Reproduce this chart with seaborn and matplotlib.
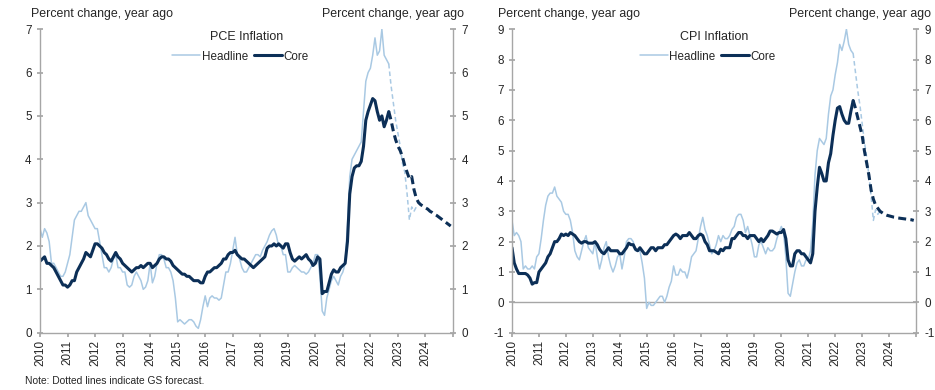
import numpy as np
import pandas as pd
import matplotlib
matplotlib.use("Agg")
import matplotlib.pyplot as plt
import seaborn as sns

sns.set_theme(style="white")
plt.rcParams['font.family'] = ['Liberation Sans', 'DejaVu Sans']

# ---------------- data (monthly, Jan 2010 - Sep 2022 actual) ----------------
pce_headline = [
    2.4, 2.2, 2.4, 2.3, 2.1, 1.6, 1.6, 1.5, 1.4, 1.3, 1.3, 1.4,
    1.6, 1.8, 2.2, 2.6, 2.7, 2.8, 2.8, 2.9, 3.0, 2.7, 2.6, 2.5,
    2.4, 2.4, 2.1, 1.8, 1.5, 1.5, 1.4, 1.5, 1.7, 1.8, 1.5, 1.5,
    1.4, 1.4, 1.1, 1.05, 1.1, 1.3, 1.4, 1.3, 1.2, 1.0, 1.05, 1.2,
    1.6, 1.15, 1.3, 1.6, 1.8, 1.8, 1.7, 1.5, 1.5, 1.4, 1.2, 0.8,
    0.25, 0.3, 0.25, 0.2, 0.25, 0.3, 0.3, 0.25, 0.15, 0.1, 0.3, 0.6,
    0.85, 0.6, 0.8, 0.85, 0.8, 0.8, 0.75, 0.8, 1.1, 1.4, 1.4, 1.6,
    1.9, 2.2, 1.8, 1.7, 1.5, 1.4, 1.4, 1.5, 1.6, 1.7, 1.8, 1.8,
    1.75, 1.9, 2.0, 2.1, 2.25, 2.35, 2.4, 2.25, 2.0, 2.0, 1.8, 1.8,
    1.4, 1.4, 1.5, 1.55, 1.5, 1.45, 1.4, 1.4, 1.35, 1.4, 1.5, 1.6,
    1.8, 1.8, 1.3, 0.5, 0.4, 0.8, 1.0, 1.2, 1.3, 1.2, 1.1, 1.3,
    1.4, 1.6, 2.5, 3.6, 4.0, 4.1, 4.2, 4.3, 4.4, 5.1, 5.8, 6.0,
    6.1, 6.4, 6.8, 6.4, 6.5, 7.0, 6.4, 6.3, 6.2,
]
pce_core = [
    1.65, 1.7, 1.75, 1.6, 1.6, 1.55, 1.5, 1.4, 1.3, 1.2, 1.1, 1.1,
    1.05, 1.1, 1.2, 1.2, 1.4, 1.5, 1.6, 1.7, 1.85, 1.8, 1.75, 1.9,
    2.05, 2.05, 2.0, 1.95, 1.85, 1.8, 1.7, 1.65, 1.75, 1.85, 1.75, 1.7,
    1.6, 1.55, 1.5, 1.45, 1.4, 1.45, 1.5, 1.5, 1.55, 1.5, 1.55, 1.6,
    1.6, 1.5, 1.55, 1.6, 1.7, 1.75, 1.75, 1.7, 1.7, 1.65, 1.55, 1.5,
    1.45, 1.4, 1.35, 1.35, 1.3, 1.3, 1.25, 1.2, 1.2, 1.2, 1.15, 1.15,
    1.3, 1.4, 1.4, 1.45, 1.5, 1.5, 1.55, 1.6, 1.7, 1.7, 1.8, 1.85,
    1.85, 1.9, 1.8, 1.75, 1.7, 1.7, 1.65, 1.6, 1.55, 1.5, 1.55, 1.6,
    1.65, 1.7, 1.75, 1.95, 2.0, 2.0, 2.05, 2.0, 2.05, 2.0, 1.95, 2.05,
    2.05, 1.85, 1.7, 1.65, 1.7, 1.75, 1.7, 1.75, 1.8, 1.7, 1.65, 1.55,
    1.6, 1.75, 1.7, 0.9, 0.95, 0.95, 1.15, 1.35, 1.45, 1.4, 1.4, 1.5,
    1.55, 1.6, 2.1, 3.2, 3.6, 3.8, 3.85, 3.85, 3.95, 4.3, 4.9, 5.1,
    5.25, 5.4, 5.35, 5.1, 4.9, 5.0, 4.75, 4.9, 5.1,
]
cpi_headline = [
    2.7, 2.2, 2.3, 2.2, 2.0, 1.1, 1.2, 1.1, 1.1, 1.2, 1.1, 1.5,
    1.6, 2.1, 2.7, 3.2, 3.5, 3.6, 3.6, 3.8, 3.5, 3.4, 3.3, 3.0,
    2.9, 2.9, 2.7, 2.3, 1.7, 1.5, 1.4, 1.7, 2.0, 2.2, 1.8, 1.7,
    1.6, 2.0, 1.5, 1.1, 1.4, 1.8, 2.0, 1.5, 1.2, 1.0, 1.2, 1.5,
    1.6, 1.1, 1.5, 2.0, 2.1, 2.1, 2.0, 1.7, 1.7, 1.7, 1.3, 0.8,
    -0.2, 0.0, -0.1, -0.1, 0.0, 0.1, 0.2, 0.2, 0.0, 0.2, 0.5, 0.7,
    1.2, 0.9, 0.9, 1.1, 1.0, 1.0, 0.8, 1.1, 1.5, 1.6, 1.7, 2.1,
    2.5, 2.8, 2.4, 2.2, 1.9, 1.6, 1.7, 1.9, 2.2, 2.0, 2.2, 2.1,
    2.1, 2.2, 2.4, 2.5, 2.8, 2.9, 2.9, 2.7, 2.3, 2.5, 2.2, 1.9,
    1.5, 1.5, 1.9, 2.0, 1.8, 1.6, 1.8, 1.7, 1.7, 1.8, 2.1, 2.3,
    2.5, 2.3, 1.5, 0.3, 0.2, 0.6, 1.0, 1.3, 1.4, 1.2, 1.2, 1.4,
    1.4, 1.7, 2.6, 4.2, 5.0, 5.4, 5.3, 5.2, 5.4, 6.2, 6.8, 7.0,
    7.5, 7.9, 8.5, 8.3, 8.6, 9.0, 8.5, 8.3, 8.2,
]
cpi_core = [
    1.8, 1.3, 1.1, 0.95, 0.95, 0.95, 0.95, 0.9, 0.8, 0.6, 0.65, 0.65,
    1.0, 1.1, 1.2, 1.3, 1.5, 1.6, 1.8, 2.0, 2.0, 2.1, 2.25, 2.2,
    2.25, 2.2, 2.3, 2.25, 2.2, 2.1, 2.0, 1.95, 2.0, 2.0, 1.95, 1.95,
    1.95, 2.0, 1.9, 1.75, 1.65, 1.6, 1.7, 1.8, 1.7, 1.7, 1.7, 1.7,
    1.6, 1.6, 1.7, 1.8, 1.95, 1.9, 1.9, 1.75, 1.7, 1.8, 1.7, 1.6,
    1.6, 1.7, 1.8, 1.8, 1.7, 1.8, 1.8, 1.8, 1.9, 1.9, 2.0, 2.1,
    2.2, 2.25, 2.2, 2.1, 2.2, 2.2, 2.2, 2.3, 2.2, 2.1, 2.1, 2.2,
    2.25, 2.2, 2.0, 1.9, 1.7, 1.7, 1.7, 1.65, 1.6, 1.75, 1.7, 1.8,
    1.8, 1.8, 2.1, 2.1, 2.2, 2.3, 2.3, 2.2, 2.2, 2.1, 2.2, 2.2,
    2.2, 2.1, 2.0, 2.1, 2.0, 2.1, 2.2, 2.35, 2.35, 2.3, 2.25, 2.3,
    2.3, 2.4, 2.1, 1.4, 1.2, 1.2, 1.6, 1.7, 1.7, 1.6, 1.6, 1.5,
    1.4, 1.3, 1.6, 3.0, 3.8, 4.45, 4.25, 4.0, 4.0, 4.6, 4.9, 5.5,
    6.0, 6.4, 6.45, 6.2, 6.0, 5.9, 5.9, 6.3, 6.65,
]

# GS forecasts (monthly, from Oct 2022)
pce_headline_fc = [5.7, 5.3, 4.9, 4.6, 4.3, 3.9, 3.7, 3.2, 2.6, 2.9, 2.8, 2.9, 2.9]
pce_core_fc = [4.9, 4.65, 4.45, 4.3, 4.2, 4.05, 3.85, 3.7, 3.55, 3.6, 3.3, 3.1,
               3.0, 2.95, 2.92, 2.88, 2.85, 2.8, 2.77, 2.73, 2.7, 2.66, 2.62,
               2.58, 2.54, 2.5, 2.46]
cpi_headline_fc = [7.6, 7.0, 6.5, 5.9, 5.3, 4.8, 4.2, 3.5, 2.7, 3.05, 2.9, 3.0, 2.95]
cpi_core_fc = [6.4, 6.1, 5.8, 5.5, 5.0, 4.6, 4.2, 3.7, 3.4, 3.2, 3.1, 3.0,
               2.95, 2.9, 2.87, 2.85, 2.83, 2.81, 2.8, 2.78, 2.77, 2.76, 2.75,
               2.74, 2.73, 2.72, 2.7]

year_labels = [str(y) for y in range(2010, 2025)]
pce_yticks = [0, 1, 2, 3, 4, 5, 6, 7]
cpi_yticks = [-1, 0, 1, 2, 3, 4, 5, 6, 7, 8, 9]

# ---------------- helpers ----------------
def dec_years(start, n):
    d = pd.date_range(start, periods=n, freq="MS")
    return d.year + (d.month - 1) / 12.0

def build(actual, fc):
    x_act = dec_years("2010-01-01", len(actual))
    x_fc = dec_years("2022-09-01", len(fc) + 1)
    act = pd.DataFrame({"x": x_act, "y": actual})
    fcd = pd.DataFrame({"x": x_fc, "y": [actual[-1]] + list(fc)})
    return act, fcd

LIGHT = "#a9c9e3"
DARK = "#0c2f57"
GRAY = "#a6a6a6"
TXT = "#262626"
FS = 8.4

fig = plt.figure(figsize=(9.35, 3.9), dpi=100)
W, H = 935, 390

def panel(left_px, right_px, head, core, head_fc, core_fc, ylim, yticks, title, zero_line):
    ax = fig.add_axes([left_px / W, (H - 332.7) / H, (right_px - left_px) / W, 303.5 / H])
    ha, hf = build(head, head_fc)
    ca, cf = build(core, core_fc)
    sns.lineplot(data=ha, x="x", y="y", ax=ax, color=LIGHT, lw=1.1, label="Headline")
    sns.lineplot(data=hf, x="x", y="y", ax=ax, color=LIGHT, lw=1.1,
                 linestyle=(0, (3, 2)))
    sns.lineplot(data=ca, x="x", y="y", ax=ax, color=DARK, lw=2.2, label="Core")
    sns.lineplot(data=cf, x="x", y="y", ax=ax, color=DARK, lw=2.2,
                 linestyle=(0, (2.6, 1.4)))
    if zero_line:
        ax.axhline(0, color=GRAY, lw=1.0, zorder=0)
    ax.set_xlim(2010, 2025)
    ax.set_ylim(*ylim)
    ax.set_xticks(list(range(2010, 2026)))
    ax.set_xticklabels(year_labels + [""], rotation=90, fontsize=FS, color=TXT)
    ax.set_yticks(yticks)
    ax.set_yticklabels([str(t) for t in yticks], fontsize=FS, color=TXT)
    ax.tick_params(axis="y", which="both", left=True, right=True, labelleft=True,
                   labelright=True, direction="inout", length=4, color=GRAY, pad=3)
    ax.tick_params(axis="y", which="both", labelright=True, pad=4)
    ax.tick_params(axis="x", bottom=True, direction="out", length=3, color=GRAY, pad=2)
    ax.set_xlabel("")
    ax.set_ylabel("")
    for s in ["left", "right", "bottom"]:
        ax.spines[s].set_color(GRAY)
        ax.spines[s].set_linewidth(1.0)
    ax.spines["top"].set_visible(False)
    ax.text(0.5, 0.975, title, transform=ax.transAxes, ha="center", va="center",
            fontsize=9.0, color=TXT)
    leg = ax.legend(loc="upper center", bbox_to_anchor=(0.485, 0.945), ncol=2,
                    frameon=False, fontsize=FS, handlelength=2.4, handletextpad=0.1,
                    columnspacing=0.5, borderaxespad=0)
    for t in leg.get_texts():
        t.set_color(TXT)
    return ax

ax1 = panel(40, 453, pce_headline, pce_core, pce_headline_fc, pce_core_fc,
            (0, 7), pce_yticks, "PCE Inflation", False)
ax2 = panel(512, 916, cpi_headline, cpi_core, cpi_headline_fc, cpi_core_fc,
            (-1, 9), cpi_yticks, "CPI Inflation", True)

# axis captions
CAP = 8.9
fig.text(31 / W, 1 - 14 / H, "Percent change, year ago", ha="left", va="center",
         fontsize=CAP, color=TXT)
fig.text(464 / W, 1 - 14 / H, "Percent change, year ago", ha="right", va="center",
         fontsize=CAP, color=TXT)
fig.text(498 / W, 1 - 14 / H, "Percent change, year ago", ha="left", va="center",
         fontsize=CAP, color=TXT)
fig.text(931 / W, 1 - 14 / H, "Percent change, year ago", ha="right", va="center",
         fontsize=CAP, color=TXT)
fig.text(25 / W, 1 - 381 / H, "Note: Dotted lines indicate GS forecast.", ha="left",
         va="center", fontsize=7.4, color=TXT)

fig.savefig("out.png", dpi=100)
